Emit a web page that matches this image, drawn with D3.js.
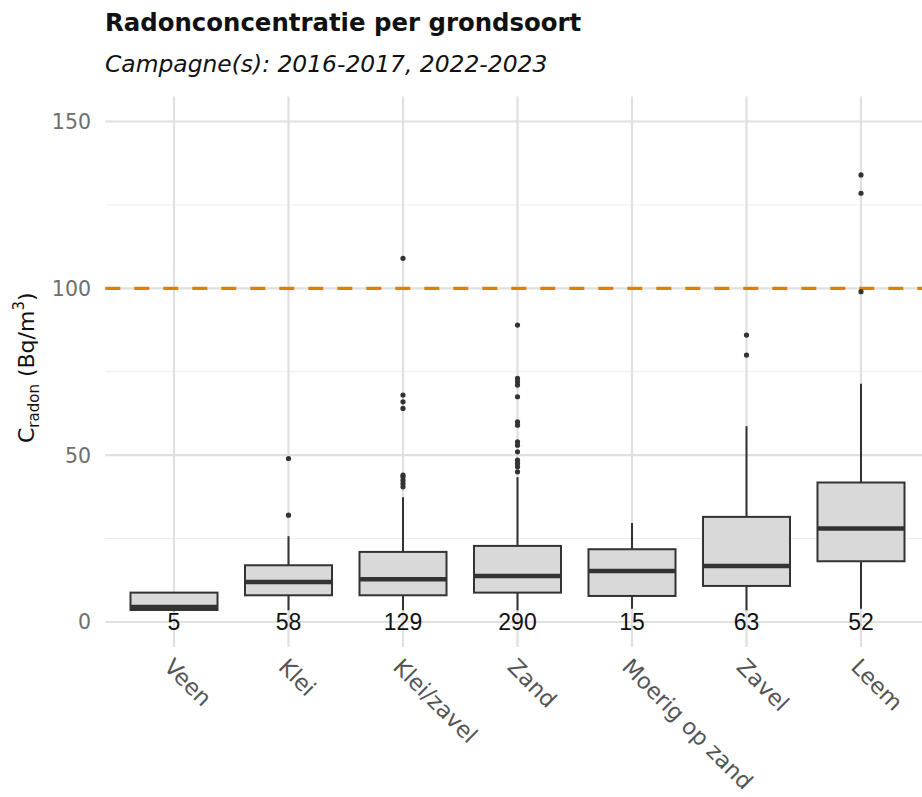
<!DOCTYPE html>
<html>
<head>
<meta charset="utf-8">
<script src="https://cdn.jsdelivr.net/npm/d3@7"></script>
<style>
  html, body { margin: 0; padding: 0; background: #fff; }
  svg { display: block; }
</style>
</head>
<body>
<svg id="chart" width="922" height="797"></svg>
<script>
// ---- data ----
const categories = ["Veen", "Klei", "Klei/zavel", "Zand", "Moerig op zand", "Zavel", "Leem"];
const counts     = [5, 58, 129, 290, 15, 63, 52];
const whiskerLow = [3.2, 3.5, 3.5, 3.5, 4.0, 3.5, 4.0];
const q1         = [3.6, 8.0, 8.0, 8.8, 7.8, 10.8, 18.2];
const medians    = [4.5, 12.0, 12.8, 13.8, 15.3, 16.8, 28.0];
const q3         = [8.8, 17.0, 21.0, 22.8, 21.8, 31.5, 41.8];
const whiskerHigh= [8.8, 25.7, 37.4, 43.4, 29.7, 58.7, 71.4];
const outliers   = [
  [],
  [32, 49],
  [40.5, 41.5, 42.5, 43.5, 44, 64, 66, 68, 109],
  [45, 46.5, 47.5, 48.5, 51, 53, 54, 59, 60, 67.5, 71, 72, 73, 89],
  [],
  [80, 86],
  [99, 128.5, 134]
];
const yTicks      = [0, 50, 100, 150];
const yMinorTicks = [25, 75, 125];
const threshold   = 100;
const title    = "Radonconcentratie per grondsoort";
const subtitle = "Campagne(s): 2016-2017, 2022-2023";

// ---- layout ----
const svg = d3.select("#chart");
const P = { left: 105.3, right: 929.7, top: 96.5, bottom: 647 };

const x = d3.scalePoint().domain(categories).range([P.left, P.right]).padding(0.6);
const y = d3.scaleLinear().domain([-7.5, 157.5]).range([P.bottom, P.top]);
const boxW = x.step() * 0.76;

const font = "'DejaVu Sans', Verdana, sans-serif";

// grid
const g = svg.append("g");
g.selectAll("line.minor").data(yMinorTicks).join("line")
  .attr("x1", P.left).attr("x2", 922)
  .attr("y1", d => y(d)).attr("y2", d => y(d))
  .attr("stroke", "#ededed").attr("stroke-width", 1.1);
g.selectAll("line.majy").data(yTicks).join("line")
  .attr("x1", P.left).attr("x2", 922)
  .attr("y1", d => y(d)).attr("y2", d => y(d))
  .attr("stroke", "#e0e0e0").attr("stroke-width", 2.2);
g.selectAll("line.majx").data(categories).join("line")
  .attr("x1", d => x(d)).attr("x2", d => x(d))
  .attr("y1", P.top).attr("y2", P.bottom)
  .attr("stroke", "#e0e0e0").attr("stroke-width", 2.2);

// y axis labels
svg.append("g").selectAll("text").data(yTicks).join("text")
  .attr("x", 91).attr("y", d => y(d)).attr("dy", "0.36em")
  .attr("text-anchor", "end")
  .attr("font-family", font).attr("font-size", 20.5)
  .attr("fill", "#6e6e6e")
  .text(d => d);

// threshold line
svg.append("line")
  .attr("x1", P.left).attr("x2", 922)
  .attr("y1", y(threshold)).attr("y2", y(threshold))
  .attr("stroke", "#E07F00").attr("stroke-width", 3.4)
  .attr("stroke-dasharray", "15,14");

// boxplots
const data = categories.map((c, i) => ({
  c, n: counts[i], lo: whiskerLow[i], q1: q1[i], med: medians[i], q3: q3[i], hi: whiskerHigh[i], out: outliers[i]
}));
const bx = svg.append("g").selectAll("g").data(data).join("g");
const dark = "#333333";
bx.append("line")
  .attr("x1", d => x(d.c)).attr("x2", d => x(d.c))
  .attr("y1", d => y(d.q3)).attr("y2", d => y(d.hi))
  .attr("stroke", dark).attr("stroke-width", 2);
bx.append("line")
  .attr("x1", d => x(d.c)).attr("x2", d => x(d.c))
  .attr("y1", d => y(d.q1)).attr("y2", d => y(d.lo))
  .attr("stroke", dark).attr("stroke-width", 2);
bx.append("rect")
  .attr("x", d => x(d.c) - boxW / 2).attr("width", boxW)
  .attr("y", d => y(d.q3)).attr("height", d => y(d.q1) - y(d.q3))
  .attr("fill", "#d9d9d9").attr("stroke", dark).attr("stroke-width", 2);
bx.append("line")
  .attr("x1", d => x(d.c) - boxW / 2).attr("x2", d => x(d.c) + boxW / 2)
  .attr("y1", d => y(d.med)).attr("y2", d => y(d.med))
  .attr("stroke", dark).attr("stroke-width", 4.5);
bx.selectAll("circle").data(d => d.out.map(v => ({ c: d.c, v }))).join("circle")
  .attr("cx", d => x(d.c)).attr("cy", d => y(d.v)).attr("r", 2.6)
  .attr("fill", dark);

// count labels
svg.append("g").selectAll("text").data(data).join("text")
  .attr("x", d => x(d.c)).attr("y", y(0)).attr("dy", "0.36em")
  .attr("text-anchor", "middle")
  .attr("font-family", "'Liberation Sans', Arial, sans-serif").attr("font-size", 23)
  .attr("fill", "#111")
  .text(d => d.n);

// x labels
svg.append("g").selectAll("text").data(categories).join("text")
  .attr("transform", d => `translate(${x(d)},${P.bottom + 10}) rotate(45)`)
  .attr("dy", "0.71em")
  .attr("text-anchor", "start")
  .attr("font-family", font).attr("font-size", 22.5)
  .attr("fill", "#555")
  .text(d => d);

// y axis title
const yt = svg.append("text")
  .attr("transform", `translate(34,${(P.top + P.bottom) / 2 - 4}) rotate(-90)`)
  .attr("text-anchor", "middle")
  .attr("font-family", font).attr("font-size", 22).attr("fill", "#111");
yt.append("tspan").text("C");
yt.append("tspan").attr("font-size", 15).attr("dy", 5).text("radon");
yt.append("tspan").attr("dy", -5).text(" (Bq/m");
yt.append("tspan").attr("font-size", 15).attr("dy", -10).text("3");
yt.append("tspan").attr("dy", 10).text(")");

// titles
svg.append("text").attr("x", 105).attr("y", 31)
  .attr("font-family", font).attr("font-weight", "bold").attr("font-size", 24.4)
  .attr("fill", "#111").text(title);
svg.append("text").attr("x", 105).attr("y", 72)
  .attr("font-family", font).attr("font-style", "italic").attr("font-size", 23.4)
  .attr("fill", "#111").text(subtitle);
</script>
</body>
</html>
